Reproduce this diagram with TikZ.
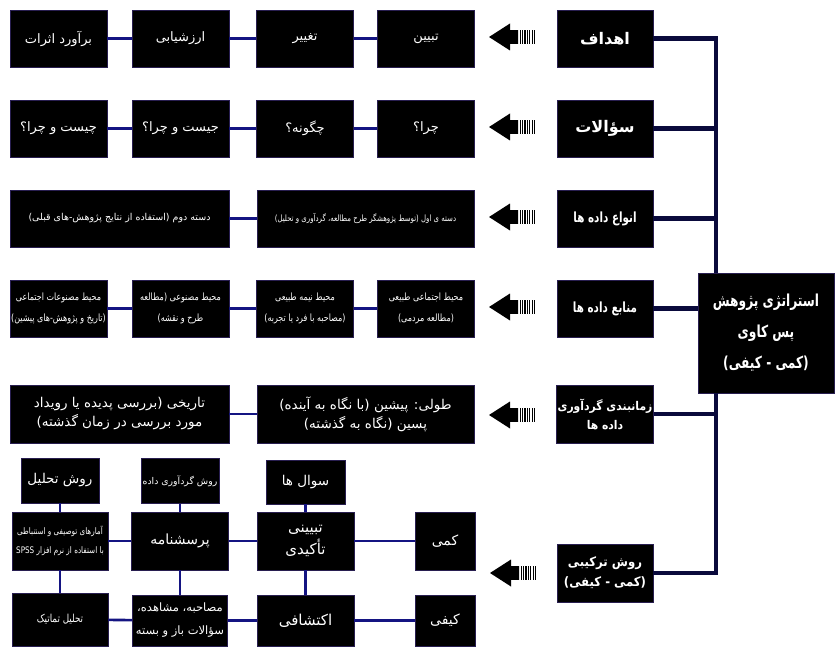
\documentclass[tikz,border=0pt]{standalone}
\usepackage{fontspec}
\TeXXeTstate=1
\newfontfamily\arabicfont[Script=Arabic]{DejaVu Sans}
\newfontfamily\arabicn[Script=Arabic,FakeStretch=0.8]{DejaVu Sans}
\newfontfamily\arabicnn[Script=Arabic,FakeStretch=0.74]{DejaVu Sans}
\newfontfamily\arabicm[Script=Arabic,FakeStretch=0.9]{DejaVu Sans}
\newcommand{\fatx}[1]{\beginR #1\endR}
\definecolor{trunkc}{RGB}{10,10,60}
\definecolor{linkc}{RGB}{20,20,130}
\definecolor{boxedge}{RGB}{40,30,80}
\tikzset{
  bx/.style={fill=black, draw=boxedge, line width=0.6pt, text=white, align=center, inner sep=1pt},
  hd/.style={bx, minimum width=96, minimum height=57, font=\arabicfont\bfseries\fontsize{16}{20}\selectfont},
  hdn/.style={hd, font=\arabicnn\bfseries\fontsize{14}{20}\selectfont},
  cell/.style={bx, minimum width=97, minimum height=57, font=\arabicfont\fontsize{13}{18}\selectfont},
  small/.style={font=\arabicn\fontsize{10}{21}\selectfont},
  link/.style={draw=linkc, line width=2.6pt},
  trunk/.style={draw=trunkc, line width=4.5pt},
  barrow/.pic={
    \fill[black] (0,0) -- (21,-13.5) -- (21,-6.8) -- (29,-6.8) -- (29,6.8) -- (21,6.8) -- (21,13.5) -- cycle;
    \foreach \i in {0,...,6} {\fill[black] (30.5+2.4*\i,-6.8) rectangle ++(1.3,13.6);}
  }
}
\begin{document}
\begin{tikzpicture}[x=1pt,y=-1pt]
\useasboundingbox[fill=white] (0,0) rectangle (837,647);

% main box
\node[bx, minimum width=136, minimum height=120, font=\arabicnn\bfseries\fontsize{16.5}{31}\selectfont] (main) at (766,333)
  {\fatx{استراتژی پژوهش}\\\fatx{پس کاوی}\\\fatx{(کمی - کیفی)}};
\coordinate (tx) at (716,0);

% row 1
\node[hd] (h1) at (605,38.5) {\fatx{اهداف}};
\node[cell] (r1d) at (426,38.5) {\fatx{تبیین}};
\node[cell] (r1c) at (305,38.5) {\fatx{تغییر}};
\node[cell] (r1b) at (180.5,38.5) {\fatx{ارزشیابی}};
\node[cell] (r1a) at (58.5,38.5) {\fatx{برآورد اثرات}};

% row 2
\node[hd] (h2) at (605,128.5) {\fatx{سؤالات}};
\node[cell] (r2d) at (426,128.5) {\fatx{چرا؟}};
\node[cell] (r2c) at (305,128.5) {\fatx{چگونه؟}};
\node[cell] (r2b) at (180.5,128.5) {\fatx{جیست و چرا؟}};
\node[cell] (r2a) at (58.5,128.5) {\fatx{چیست و چرا؟}};

% row 3
\node[hdn] (h3) at (605,218.5) {\fatx{انواع داده ها}};
\node[cell, minimum width=217, font=\arabicn\fontsize{8.7}{20}\selectfont] (r3b) at (365.5,218.5) {\fatx{دسته ی اول (توسط پژوهشگر طرح مطالعه، گردآوری و تحلیل)}};
\node[cell, minimum width=219, font=\arabicfont\fontsize{9.5}{20}\selectfont] (r3a) at (119.5,218.5) {\fatx{دسته دوم (استفاده از نتایج پژوهش-های قبلی)}};

% row 4
\node[hdn] (h4) at (605,308.5) {\fatx{منابع داده ها}};
\node[cell, small] (r4d) at (426,308.5) {\fatx{محیط اجتماعی طبیعی}\\\fatx{(مطالعه مردمی)}};
\node[cell, small] (r4c) at (305,308.5) {\fatx{محیط نیمه طبیعی}\\\fatx{(مصاحبه با فرد یا تجربه)}};
\node[cell, small] (r4b) at (180.5,308.5) {\fatx{محیط مصنوعی (مطالعه}\\\fatx{طرح و نقشه)}};
\node[cell, small] (r4a) at (58.5,308.5) {\fatx{محیط مصنوعات اجتماعی}\\\fatx{(تاریخ و پژوهش-های پیشین)}};

% row 5
\node[hd, minimum height=58, font=\arabicm\bfseries\fontsize{12}{19}\selectfont] (h5) at (605,414) {\fatx{زمانبندی گردآوری}\\\fatx{داده ها}};
\node[cell, minimum width=217, minimum height=58, font=\arabicfont\fontsize{13.5}{19}\selectfont] (r5b) at (365.5,414) {\fatx{طولی: پیشین (با نگاه به آینده)}\\\fatx{پسین (نگاه به گذشته)}};
\node[cell, minimum width=219, minimum height=58, font=\arabicfont\fontsize{13.5}{19}\selectfont] (r5a) at (119.5,414) {\fatx{تاریخی (بررسی پدیده یا رویداد}\\\fatx{مورد بررسی در زمان گذشته)}};

% bottom section
\node[hd, minimum height=58, font=\arabicm\bfseries\fontsize{13}{20}\selectfont] (h6) at (605,573) {\fatx{روش ترکیبی}\\\fatx{(کمی - کیفی)}};
\node[bx, minimum width=60, minimum height=58, font=\arabicfont\fontsize{14}{20}\selectfont] (kam) at (445,541) {\fatx{کمی}};
\node[bx, minimum width=60, minimum height=51, font=\arabicfont\fontsize{14}{20}\selectfont] (kay) at (445,620.5) {\fatx{کیفی}};
\node[bx, minimum width=97, minimum height=58, font=\arabicfont\fontsize{15}{22}\selectfont] (tab) at (305.5,541) {\fatx{تبیینی}\\\fatx{تأکیدی}};
\node[bx, minimum width=97, minimum height=51, font=\arabicfont\fontsize{15}{20}\selectfont] (ekt) at (305.5,620.5) {\fatx{اکتشافی}};
\node[bx, minimum width=79, minimum height=44, font=\arabicfont\fontsize{13.5}{20}\selectfont] (soal) at (305.5,482) {\fatx{سوال ها}};
\node[bx, minimum width=97, minimum height=58, font=\arabicfont\fontsize{14}{20}\selectfont] (por) at (180,541) {\fatx{پرسشنامه}};
\node[bx, minimum width=78, minimum height=45, font=\arabicfont\fontsize{9.3}{20}\selectfont] (gar) at (180,481) {\fatx{روش گردآوری داده}};
\node[bx, minimum width=95, minimum height=51, font=\arabicfont\fontsize{11.5}{23}\selectfont] (mos) at (180,620.5) {\fatx{مصاحبه، مشاهده،}\\\fatx{سؤالات باز و بسته}};
\node[bx, minimum width=78, minimum height=45, font=\arabicfont\fontsize{13.5}{20}\selectfont] (rta) at (60,480.5) {\fatx{روش تحلیل}};
\node[bx, minimum width=96, minimum height=58, font=\arabicn\fontsize{9}{19}\selectfont] (amr) at (60,541) {\fatx{آمارهای توصیفی و استنباطی}\\\fatx{با استفاده از نرم افزار \beginL SPSS\endL}};
\node[bx, minimum width=96, minimum height=53, font=\arabicn\fontsize{11}{20}\selectfont] (tem) at (60,619.5) {\fatx{تحلیل تماتیک}};

% links between boxes
\draw[link] (r1d) -- (r1c); \draw[link] (r1c) -- (r1b); \draw[link] (r1b) -- (r1a);
\draw[link] (r2d) -- (r2c); \draw[link] (r2c) -- (r2b); \draw[link] (r2b) -- (r2a);
\draw[link] (r3b) -- (r3a);
\draw[link] (r4d) -- (r4c); \draw[link] (r4c) -- (r4b); \draw[link] (r4b) -- (r4a);
\draw[link] (r5b) -- (r5a);
\draw[link] (kam) -- (tab); \draw[link] (tab) -- (por); \draw[link] (por) -- (amr);
\draw[link] (kay) -- (ekt); \draw[link] (ekt) -- (mos); \draw[link] (mos) -- (tem);
\draw[link] (soal) -- (tab); \draw[link] (tab) -- (ekt);
\draw[link] (gar) -- (por); \draw[link] (por) -- (mos);
\draw[link] (rta) -- (amr); \draw[link] (amr) -- (tem);

% trunk
\draw[trunk] (h1.east) -| (tx |- main.north);
\draw[trunk] (h2.east) -- (h2.east -| tx);
\draw[trunk] (h3.east) -- (h3.east -| tx);
\draw[trunk] (h4.east) -- (h4.east -| main.west);
\draw[trunk] (h5.east) -- (h5.east -| tx);
\draw[trunk] (h6.east) -| (tx |- main.south);

% block arrows
\pic at (489,37) {barrow};
\pic at (489,127) {barrow};
\pic at (489,217) {barrow};
\pic at (489,307) {barrow};
\pic at (489,415) {barrow};
\pic at (490,573) {barrow};
\end{tikzpicture}
\end{document}
